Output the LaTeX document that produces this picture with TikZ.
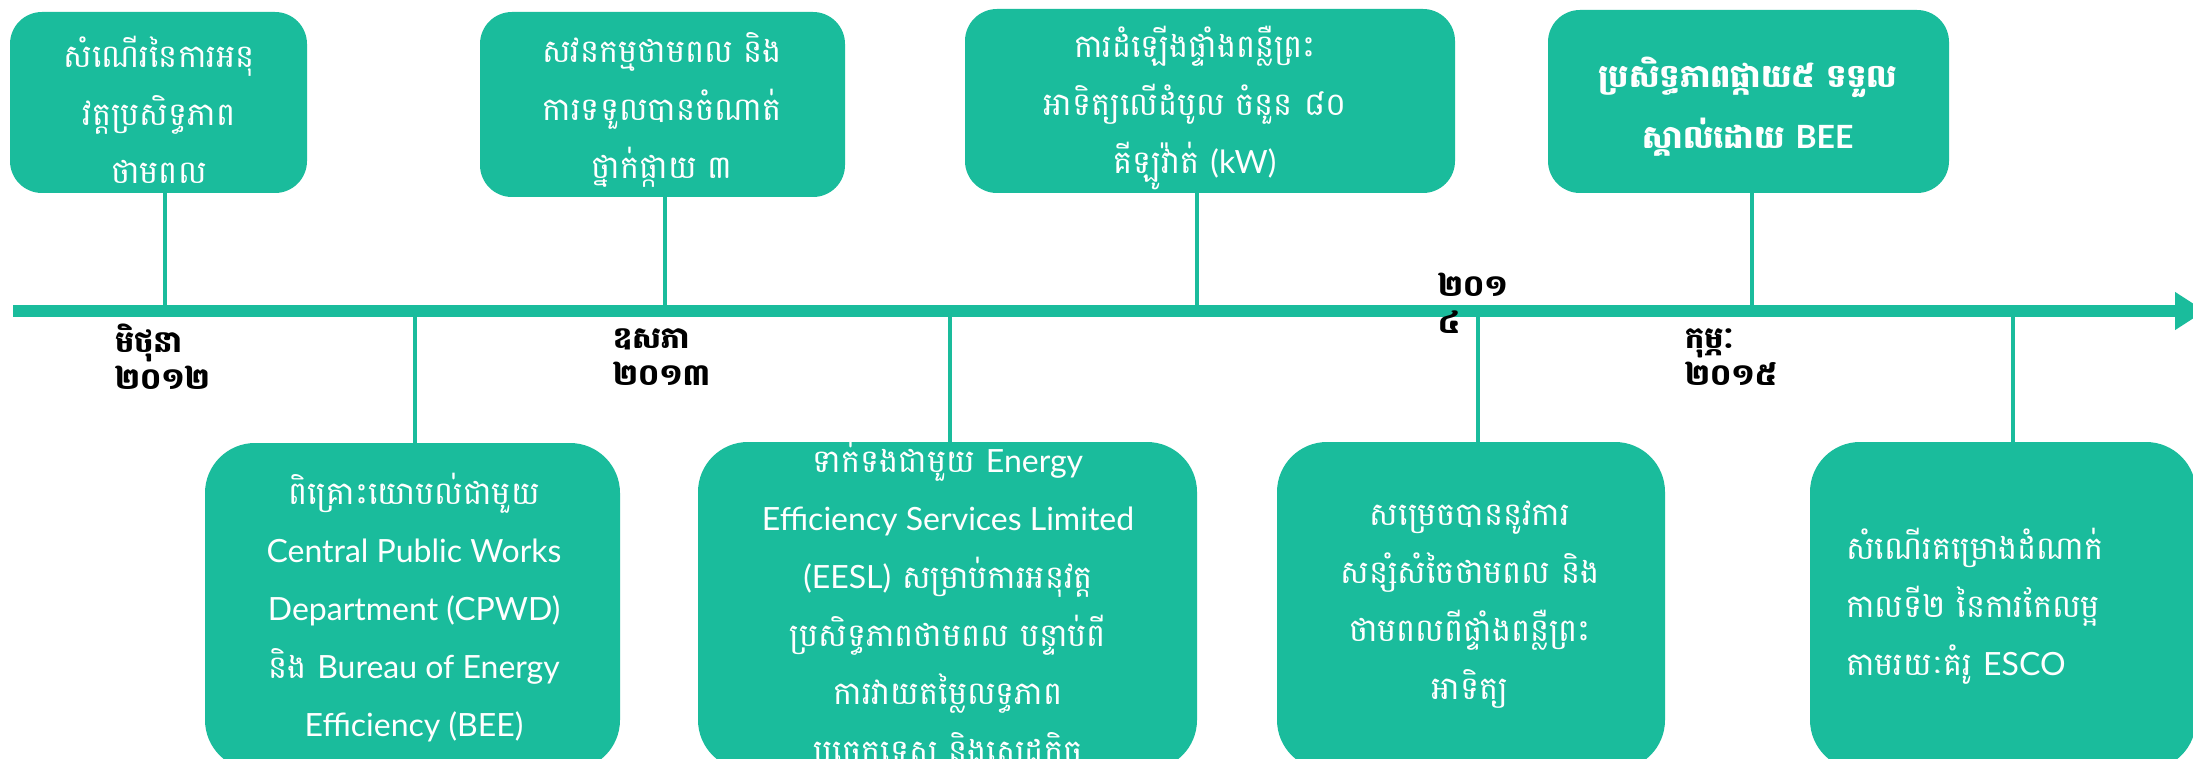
\documentclass[tikz,border=0pt]{standalone}
\usepackage{fontspec}
\setmainfont{Lato}
\newfontfamily\kh[Script=Khmer]{Battambang}
\newfontfamily\lat{Lato}
\usetikzlibrary{arrows.meta}
\definecolor{tealA}{HTML}{1ABC9C}
\setlength{\lineskiplimit}{-200pt}
\begin{document}
\begin{tikzpicture}[x=1pt,y=-1pt]
\tikzset{
  topbox/.style={fill=tealA, rounded corners=32pt, inner sep=0pt},
  botbox/.style={fill=tealA, rounded corners=50pt, inner sep=0pt},
  boxtext/.style={text=white, align=center, inner sep=0pt, font=\fontsize{32}{58}\selectfont\kh},
  datelab/.style={text=black, align=left, inner sep=0pt, anchor=west, font=\fontsize{30}{37}\selectfont\bfseries\kh},
  conn/.style={draw=tealA, line width=4pt},
  axisline/.style={draw=tealA, line width=12pt, -{Triangle[length=30pt,width=36pt]}}
}
\useasboundingbox (0,0) rectangle (2193,759);
\fill[white] (0,0) rectangle (2193,759);

% axis
\coordinate (a0) at (13,311);
\coordinate (a1) at (2205,311);
\draw[axisline] (a0) -- (a1);

% top boxes
\node[topbox, minimum width=297pt, minimum height=181pt] (b1) at (158.5,102.5) {};
\node[topbox, minimum width=365pt, minimum height=185pt] (b2) at (662.5,104.5) {};
\node[topbox, minimum width=490pt, minimum height=184pt] (b3) at (1210,101) {};
\node[topbox, minimum width=401pt, minimum height=183pt] (b4) at (1748.5,101.5) {};

% bottom boxes
\node[botbox, minimum width=415pt, minimum height=327pt] (b5) at (412.5,606.5) {};
\node[botbox, minimum width=499pt, minimum height=328pt] (b6) at (947.5,606) {};
\node[botbox, minimum width=388pt, minimum height=328pt] (b7) at (1471,606) {};
\node[botbox, minimum width=386pt, minimum height=328pt] (b8) at (2003,606) {};

% connector points on axis
\coordinate (c1) at (165,311);
\coordinate (c2) at (665,311);
\coordinate (c3) at (1197,311);
\coordinate (c4) at (1752,311);
\coordinate (c5) at (415,311);
\coordinate (c6) at (950,311);
\coordinate (c7) at (1478,311);
\coordinate (c8) at (2013,311);
\draw[conn] (b1.south -| c1) -- (c1);
\draw[conn] (b2.south -| c2) -- (c2);
\draw[conn] (b3.south -| c3) -- (c3);
\draw[conn] (b4.south -| c4) -- (c4);
\draw[conn] (b5.north -| c5) -- (c5);
\draw[conn] (b6.north -| c6) -- (c6);
\draw[conn] (b7.north -| c7) -- (c7);
\draw[conn] (b8.north -| c8) -- (c8);

% texts
\node[boxtext] (t1) at (159,110) {សំណើរនៃការអនុ\\វត្តប្រសិទ្ធភាព\\ថាមពល};
\node[boxtext] (t2) at (662,110) {សវនកម្មថាមពល និង\\ការទទួលបានចំណាត់\\ថ្នាក់ផ្កាយ ៣};
\node[boxtext] (t3) at (1195,108) {ការដំឡើងផ្ទាំងពន្លឺព្រះ\\អាទិត្យលើដំបូល ចំនួន ៨០\\គីឡូវ៉ាត់ {\lat (kW)}};
\node[boxtext, font=\fontsize{32}{61}\selectfont\bfseries\kh] (t4) at (1748,107) {ប្រសិទ្ធភាពផ្កាយ៥ ទទួល\\ស្គាល់ដោយ {\lat BEE}};
\node[boxtext] (t5) at (414,608) {ពិគ្រោះយោបល់ជាមួយ\\{\lat Central Public Works}\\{\lat Department (CPWD)}\\និង {\lat Bureau of Energy}\\{\lat Efficiency (BEE)}};
\node[boxtext] (t6) at (948,606) {ទាក់ទងជាមួយ {\lat Energy}\\{\lat Efficiency Services Limited}\\{\lat (EESL)} សម្រាប់ការអនុវត្ត\\ប្រសិទ្ធភាពថាមពល បន្ទាប់ពី\\ការវាយតម្លៃលទ្ធភាព\\បច្ចេកទេស និងសេដ្ឋកិច្ច};
\node[boxtext] (t7) at (1470,605) {សម្រេចបាននូវការ\\សន្សំសំចៃថាមពល និង\\ថាមពលពីផ្ទាំងពន្លឺព្រះ\\អាទិត្យ};
\node[boxtext, align=left, anchor=west] (t8) at (1846,606) {សំណើរគម្រោងដំណាក់\\កាលទី២ នៃការកែលម្អ\\តាមរយៈគំរូ {\lat ESCO}};

% date labels
\node[datelab] (d1) at (115,357) {មិថុនា\\២០១២};
\node[datelab] (d2) at (613,357) {ឧសភា\\២០១៣};
\node[datelab] (d3) at (1438,303) {២០១\\៤};
\node[datelab] (d4) at (1685,357) {កុម្ភៈ\\២០១៥};
\end{tikzpicture}
\end{document}
